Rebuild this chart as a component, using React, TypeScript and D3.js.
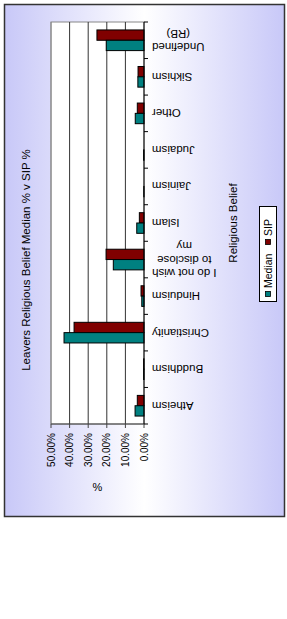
import * as d3 from "d3";

const categories = [
  "Atheism",
  "Buddhism",
  "Christianity",
  "Hinduism",
  "I do not wish to disclose my",
  "Islam",
  "Jainism",
  "Judaism",
  "Other",
  "Sikhism",
  "Undefined (RB)",
];
const medianValues = [4.8, 0.2, 43.0, 1.2, 16.5, 3.9, 0.1, 0.2, 4.7, 3.3, 20.3];
const sipValues = [3.6, 0.2, 37.6, 1.6, 20.4, 2.5, 0.0, 0.0, 3.6, 3.2, 25.3];
const valueTicks = [0, 0.1, 0.2, 0.3, 0.4, 0.5];
const seriesNames = ["Median", "SIP"];
const seriesColors = ["#008080", "#800000"];
const titleText = "Leavers Religious Belief Median % v SIP %";
const valueAxisTitle = "%";
const categoryAxisTitle = "Religious Belief";

const WIDTH = 287;
const HEIGHT = 619;
const PLOT = { left: 51, right: 144, top: 22, bottom: 424 };
const FONT = "'Liberation Sans', Arial, sans-serif";
const LABEL_SIZE = 11.5;
const WRAP_WIDTH = 70;

let ctx: CanvasRenderingContext2D | null = null;
function measure(text: string) {
  if (!ctx) ctx = document.createElement("canvas").getContext("2d");
  if (!ctx) return text.length * LABEL_SIZE * 0.5;
  ctx.font = `${LABEL_SIZE}px ${FONT}`;
  return ctx.measureText(text).width;
}

function wrap(label: string) {
  const lines: string[] = [];
  let current = "";
  for (const word of label.split(" ")) {
    const next = current ? `${current} ${word}` : word;
    if (current && measure(next) > WRAP_WIDTH) {
      lines.push(current);
      current = word;
    } else {
      current = next;
    }
  }
  if (current) lines.push(current);
  return lines;
}

export default function App() {
  // value axis runs right-to-left, categories bottom-to-top (chart turned on its side)
  const x = d3.scaleLinear().domain([0, 0.5]).range([PLOT.right, PLOT.left]);
  const y = d3.scaleBand<string>().domain(categories).range([PLOT.bottom, PLOT.top]);
  const inner = d3.scaleBand<string>().domain(["SIP", "Median"]).range([0, y.bandwidth()]).paddingInner(0).paddingOuter(0.77);
  const boundaries = d3.range(categories.length + 1).map((i) => PLOT.bottom - i * y.step());

  const rows = categories.map((cat, i) => ({
    cat,
    Median: medianValues[i] / 100,
    SIP: sipValues[i] / 100,
  }));

  return (
    <svg width={WIDTH} height={HEIGHT} style={{ position: "absolute", left: 0, top: 0, display: "block" }} fontFamily={FONT}>
      <defs>
        <linearGradient id="bg" x1="0" x2="1" y1="0" y2="0">
          <stop offset="0" stopColor="#c8c8f8" />
          <stop offset="0.5" stopColor="#ffffff" />
          <stop offset="1" stopColor="#c8c8f8" />
        </linearGradient>
      </defs>
      <rect x={0} y={0} width={WIDTH} height={HEIGHT} fill="#fff" />
      <rect x={4.5} y={4.5} width={280} height={512} fill="url(#bg)" stroke="#333" strokeWidth={1.5} />

      <rect x={PLOT.left} y={PLOT.top} width={PLOT.right - PLOT.left} height={PLOT.bottom - PLOT.top} fill="#fff" stroke="#888" strokeWidth={1} />
      {valueTicks.slice(1).map((t) => (
        <line key={t} x1={x(t)} x2={x(t)} y1={PLOT.top} y2={PLOT.bottom} stroke={t === 0.5 ? "#888" : "#333"} />
      ))}

      {rows.map((row) => (
        <g key={row.cat} transform={`translate(0 ${y(row.cat)})`}>
          {(["SIP", "Median"] as const).map((key) => (
            <rect
              key={key}
              x={x(row[key])}
              y={inner(key)}
              width={x(0) - x(row[key])}
              height={inner.bandwidth()}
              fill={seriesColors[seriesNames.indexOf(key)]}
              stroke="#000"
              strokeWidth={1}
            />
          ))}
        </g>
      ))}

      {/* value axis */}
      <line x1={PLOT.left} x2={PLOT.right} y1={PLOT.bottom} y2={PLOT.bottom} stroke="#444" />
      {valueTicks.map((t) => (
        <g key={t}>
          <line x1={x(t)} x2={x(t)} y1={PLOT.bottom} y2={PLOT.bottom + 4} stroke="#444" />
          <text transform={`translate(${x(t)} ${PLOT.bottom + 9}) rotate(-90)`} textAnchor="end" dominantBaseline="central" fontSize={10}>
            {d3.format(".2%")(t)}
          </text>
        </g>
      ))}
      <text x={(PLOT.left + PLOT.right) / 2} y={487} textAnchor="middle" dominantBaseline="central" fontSize={11}>
        {valueAxisTitle}
      </text>

      {/* category axis */}
      <line x1={PLOT.right} x2={PLOT.right} y1={PLOT.top} y2={PLOT.bottom} stroke="#000" />
      {boundaries.map((b) => (
        <line key={b} x1={PLOT.right} x2={PLOT.right + 4} y1={b} y2={b} stroke="#000" />
      ))}
      {categories.map((cat) => {
        const lines = wrap(cat);
        const blockWidth = Math.max(...lines.map(measure));
        const cx = PLOT.right + 8 + blockWidth / 2;
        const cy = (y(cat) ?? 0) + y.bandwidth() / 2;
        const lineH = 13.5;
        return lines.map((line, i) => (
          <text
            key={`${cat}-${i}`}
            transform={`translate(${cx} ${cy - (i - (lines.length - 1) / 2) * lineH}) rotate(180)`}
            textAnchor="middle"
            dominantBaseline="central"
            fontSize={LABEL_SIZE}
          >
            {line}
          </text>
        ));
      })}
      <text transform={`translate(233 ${(PLOT.top + PLOT.bottom) / 2}) rotate(-90)`} textAnchor="middle" dominantBaseline="central" fontSize={11.5}>
        {categoryAxisTitle}
      </text>

      {/* title */}
      <text transform={`translate(26 260) rotate(-90)`} textAnchor="middle" dominantBaseline="central" fontSize={11.5}>
        {titleText}
      </text>

      {/* legend */}
      <rect x={259.5} y={206.5} width={17} height={95} fill="#fff" stroke="#000" />
      {seriesNames.map((name, i) => {
        const base = i === 0 ? 297 : 245;
        return (
          <g key={name}>
            <rect x={265.5} y={base - 5.5} width={5} height={5} fill={seriesColors[i]} stroke="#000" strokeWidth={0.8} />
            <text transform={`translate(268 ${base - 9}) rotate(-90)`} dominantBaseline="central" fontSize={10.5}>
              {name}
            </text>
          </g>
        );
      })}
    </svg>
  );
}
